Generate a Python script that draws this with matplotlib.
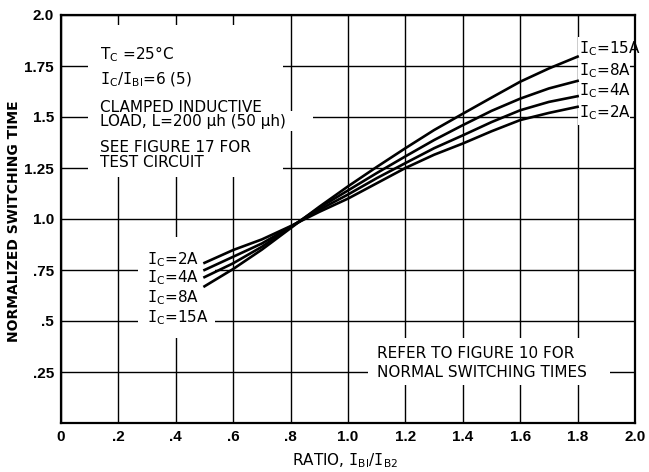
import matplotlib
matplotlib.use('Agg')
import matplotlib.pyplot as plt
from matplotlib.patches import Rectangle

plt.rcParams['font.family'] = 'DejaVu Sans'
plt.rcParams['mathtext.fontset'] = 'dejavusans'

# --- datos ---
ratio = [0.5, 0.6, 0.7, 0.8, 0.9, 1.0, 1.1, 1.2, 1.3, 1.4, 1.5, 1.6, 1.7, 1.8]
t_2a = [0.785, 0.848, 0.90, 0.965, 1.035, 1.10, 1.175, 1.25, 1.315, 1.37, 1.43, 1.485, 1.52, 1.55]
t_4a = [0.75, 0.815, 0.88, 0.962, 1.045, 1.12, 1.20, 1.274, 1.347, 1.41, 1.475, 1.533, 1.574, 1.602]
t_8a = [0.715, 0.783, 0.864, 0.96, 1.055, 1.14, 1.225, 1.307, 1.387, 1.46, 1.53, 1.59, 1.64, 1.677]
t_15a = [0.67, 0.755, 0.85, 0.955, 1.06, 1.16, 1.255, 1.347, 1.436, 1.516, 1.595, 1.673, 1.738, 1.796]

x_ticks = [0, 0.2, 0.4, 0.6, 0.8, 1.0, 1.2, 1.4, 1.6, 1.8, 2.0]
x_labels = ['0', '.2', '.4', '.6', '.8', '1.0', '1.2', '1.4', '1.6', '1.8', '2.0']
y_ticks = [0, 0.25, 0.5, 0.75, 1.0, 1.25, 1.5, 1.75, 2.0]
y_labels = ['', '.25', '.5', '.75', '1.0', '1.25', '1.5', '1.75', '2.0']

IC = r'$\mathtt{I}_\mathrm{C}$'

fig = plt.figure(figsize=(6.49, 4.72), dpi=100)
fig.patch.set_facecolor('white')
ax = fig.add_axes([61 / 649, 49 / 472, 574 / 649, 408 / 472])

ax.set_xlim(0, 2.0)
ax.set_ylim(0, 2.0)
ax.set_xticks(x_ticks)
ax.set_xticklabels(x_labels, fontweight='bold', fontsize=11, family='Liberation Sans')
ax.set_yticks(y_ticks)
ax.set_yticklabels(y_labels, fontweight='bold', fontsize=11, family='Liberation Sans')
ax.tick_params(length=0, pad=5)
ax.set_axisbelow(True)
ax.grid(True, color='black', linewidth=1.0)
for s in ax.spines.values():
    s.set_linewidth(1.6)

# curvas
for serie in (t_2a, t_4a, t_8a, t_15a):
    ax.plot(ratio, serie, color='black', linewidth=1.9, zorder=5, solid_joinstyle='round')

# --- mascaras blancas detras de los textos ---
bloques = [
    (0.047, 0.603, 0.340, 0.372),  # notas arriba a la izquierda
    (0.387, 0.716, 0.052, 0.048),  # final de la linea LOAD
    (0.134, 0.208, 0.134, 0.248),  # etiquetas izquierda
    (0.535, 0.093, 0.421, 0.115),  # nota abajo a la derecha
    (0.901, 0.730, 0.090, 0.216),  # etiquetas derecha
]
for bx, by, bw, bh in bloques:
    ax.add_patch(Rectangle((bx, by), bw, bh, transform=ax.transAxes,
                           facecolor='white', edgecolor='none', zorder=3))

fs = 11
kw = dict(transform=ax.transAxes, fontsize=fs, va='baseline', ha='left', zorder=4)

# notas
ax.text(0.068, 0.892, r'$\mathrm{T}_\mathrm{C}$ =25°C', **kw)
ax.text(0.068, 0.831, IC + r'/$\mathtt{I}_\mathrm{BI}$=6 (5)', **kw)
ax.text(0.068, 0.762, 'CLAMPED INDUCTIVE', **kw)
ax.text(0.068, 0.728, 'LOAD, L=200 µh (50 µh)', **kw)
ax.text(0.068, 0.664, 'SEE FIGURE 17 FOR', **kw)
ax.text(0.068, 0.627, 'TEST CIRCUIT', **kw)

# etiquetas izquierda
ax.text(0.150, 0.390, IC + '=2A', **kw)
ax.text(0.150, 0.346, IC + '=4A', **kw)
ax.text(0.150, 0.297, IC + '=8A', **kw)
ax.text(0.150, 0.248, IC + '=15A', **kw)

# etiquetas derecha
ax.text(0.903, 0.907, IC + '=15A', **kw)
ax.text(0.903, 0.853, IC + '=8A', **kw)
ax.text(0.903, 0.804, IC + '=4A', **kw)
ax.text(0.903, 0.750, IC + '=2A', **kw)

# nota abajo
ax.text(0.551, 0.159, 'REFER TO FIGURE 10 FOR', **kw)
ax.text(0.551, 0.113, 'NORMAL SWITCHING TIMES', **kw)

fig.text(14 / 649, 1 - 221 / 472, 'NORMALIZED SWITCHING TIME', rotation=90,
         fontsize=10, fontweight='bold', ha='center', va='center')
fig.text(345 / 649, 1 - 461 / 472, r'RATIO, $\mathtt{I}_\mathrm{BI}$/$\mathtt{I}_\mathrm{B2}$',
         fontsize=fs, ha='center', va='center')

fig.savefig('out.png', dpi=100, facecolor='white')
